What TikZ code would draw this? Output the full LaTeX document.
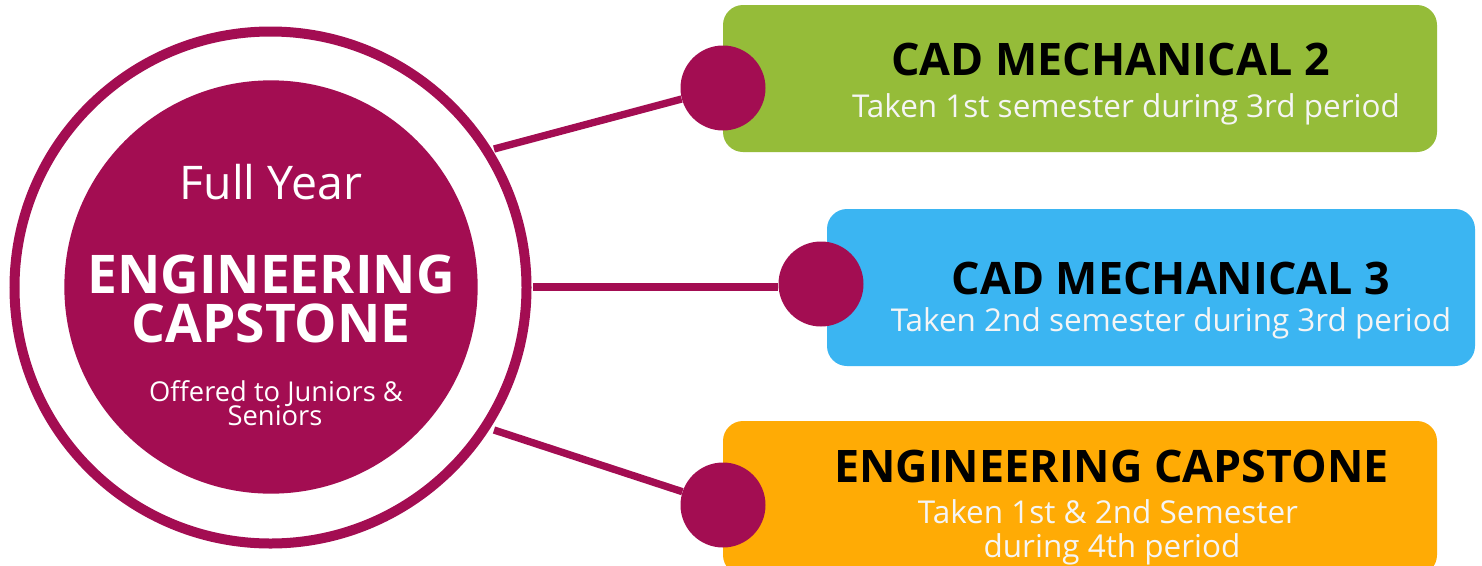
\documentclass[tikz,border=0pt]{standalone}
\usepackage{fontspec}
\setmainfont{Open Sans}
\definecolor{plum}{HTML}{A30D52}
\definecolor{grn}{HTML}{95BC39}
\definecolor{blu}{HTML}{3BB5F2}
\definecolor{org}{HTML}{FFAB05}
\tikzset{x=0.75pt,y=-0.75pt,
 card/.style={rounded corners=15pt,inner sep=0pt},
 dot/.style={circle,fill=plum,minimum size=63.75pt,inner sep=0pt},
 link/.style={draw=plum,line width=5.5pt},
 head/.style={font=\fontsize{33.6}{34}\selectfont\bfseries,text=black,inner sep=0pt,anchor=center},
 sub/.style={font=\fontsize{23.6}{24}\selectfont,text=white!92!gray,inner sep=0pt,anchor=center},
 inner/.style={text=white,inner sep=0pt,anchor=center,align=center}}
\begin{document}
\begin{tikzpicture}
\useasboundingbox (0,0) rectangle (1482,565);
\fill[white] (0,0) rectangle (1482,565);
\fill[grn,card] (723,5) rectangle (1437,152);
\fill[blu,card] (827,209) rectangle (1475,366);
\fill[org,card] (723,421) rectangle (1437,575);
\clip (0,0) rectangle (1482,565);
\node[circle,draw=plum,line width=7.5pt,minimum size=384pt,inner sep=0pt] (ring) at (270.5,287.5) {};
\node[circle,fill=plum,minimum size=310pt,inner sep=0pt] (core) at (271,287) {};
\node[dot] (d1) at (723,88) {};
\node[dot] (d2) at (821,284) {};
\node[dot] (d3) at (723,505) {};
\coordinate (s1) at (494,149);
\coordinate (s2) at (533,287);
\coordinate (s3) at (494,430);
\draw[link] (s1) -- (d1);
\draw[link] (s2) -- (s2 -| d2.west);
\draw[link] (s3) -- (d3);
\node[inner,font=\fontsize{34.8}{35}\selectfont] (t1) at (271,182) {Full Year};
\node[inner,font=\fontsize{40}{40}\selectfont\bfseries] (t2) at (271,274) {ENGINEERING};
\node[inner,font=\fontsize{40}{40}\selectfont\bfseries] (t3) at (271,323) {CAPSTONE};
\node[inner,font=\fontsize{20.5}{21}\selectfont] (t4) at (276,394) {Offered to Juniors \&};
\node[inner,font=\fontsize{20.5}{21}\selectfont] (t5) at (275,416) {Seniors};
\node[head] (h1) at (1110.5,59) {CAD MECHANICAL 2};
\node[sub] (s1t) at (1126,109) {Taken 1st semester during 3rd period};
\node[head] (h2) at (1171,278) {CAD MECHANICAL 3};
\node[sub] (s2t) at (1171,323) {Taken 2nd semester during 3rd period};
\node[head] (h3) at (1111.5,466) {ENGINEERING CAPSTONE};
\node[sub] (s3t) at (1108,512) {Taken 1st \& 2nd Semester};
\node[sub] (s3u) at (1112,549) {during 4th period};
\end{tikzpicture}
\end{document}
